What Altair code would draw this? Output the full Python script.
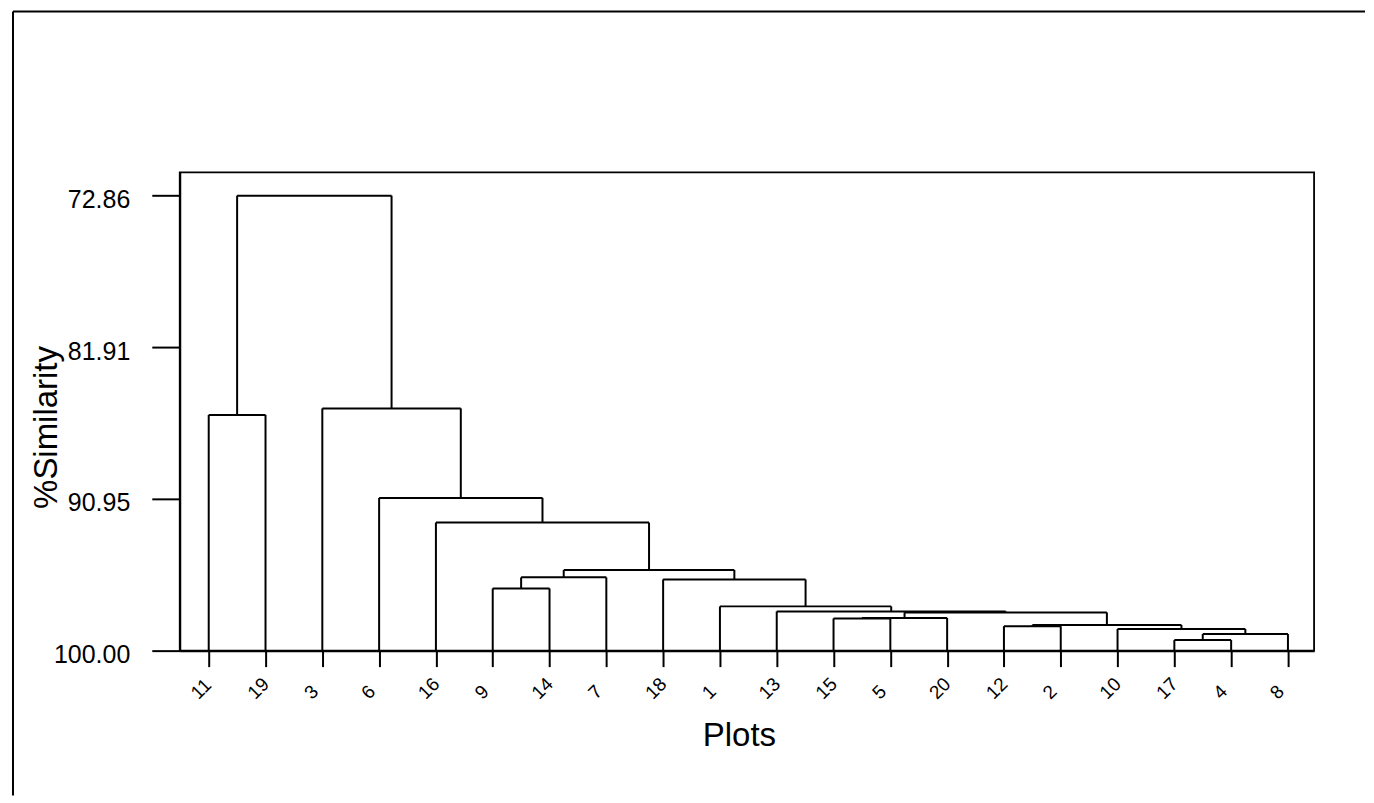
import altair as alt
import pandas as pd

# Leaf order along the x axis (plot numbers)
leaves = ["11", "19", "3", "6", "16", "9", "14", "7", "18", "1",
          "13", "15", "5", "20", "12", "2", "10", "17", "4", "8"]

# Merges: left member, right member, % similarity at which they join
merge_a = ["17", "m1", "10", "12", "m4", "15", "m6", "m7", "13", "1",
           "9", "18", "m11", "m13", "16", "6", "11", "3", "m17"]
merge_b = ["4", "8", "m2", "2", "m3", "5", "20", "m5", "m8", "m9",
           "14", "m10", "7", "m12", "m14", "m15", "19", "m16", "m18"]
merge_sim = [99.37, 99.01, 98.71, 98.54, 98.47, 98.08, 98.05, 97.72, 97.66, 97.36,
             96.29, 95.75, 95.63, 95.19, 92.36, 90.89, 85.94, 85.55, 72.86]

y_ticks = [72.86, 81.91, 90.95, 100.00]

# build the dendrogram segments (data space: leaf index, similarity)
pos = {name: (i, 100.0) for i, name in enumerate(leaves)}
rows = []
for k, (a, b, h) in enumerate(zip(merge_a, merge_b, merge_sim), start=1):
    xa, ya = pos[a]
    xb, yb = pos[b]
    rows.append({"x": xa, "x2": xa, "y": ya, "y2": h})
    rows.append({"x": xb, "x2": xb, "y": yb, "y2": h})
    rows.append({"x": xa, "x2": xb, "y": h, "y2": h})
    pos["m%d" % k] = ((xa + xb) / 2.0, h)
seg = pd.DataFrame(rows)

label_arr = "[" + ",".join("'%s'" % s for s in leaves) + "]"

W, H = 1136, 479

xscale = alt.Scale(domain=[-0.51, 19.46], nice=False, zero=False)
yscale = alt.Scale(domain=[71.47, 100.0], nice=False, zero=False, reverse=True)

dendro = alt.Chart(seg).mark_rule(color="black", strokeWidth=2).encode(
    x=alt.X("x:Q", scale=xscale, axis=alt.Axis(
        values=list(range(len(leaves))),
        labelExpr=label_arr + "[datum.value]",
        title="Plots", titleFontSize=33, titleFont="Liberation Sans",
        titleFontWeight="normal", titleX=560, titleY=95,
        titleBaseline="alphabetic", titleAlign="center",
        labelAngle=315, labelAlign="left", labelBaseline="middle",
        labelOffset=-15, labelPadding=29, labelFontSize=19,
        labelOverlap=False, labelFont="Liberation Sans",
        tickSize=16, tickWidth=2, tickColor="black",
        domainColor="black", domainWidth=2, labelColor="black", grid=False)),
    x2="x2:Q",
    y=alt.Y("y:Q", scale=yscale, axis=alt.Axis(
        values=y_ticks, format=".2f",
        title="%Similarity", titleFontSize=33, titleFont="Liberation Sans",
        titleFontWeight="normal", titleAngle=270, titleBaseline="bottom",
        titleAlign="center", titleX=-116, titleY=255,
        labelFontSize=25, labelFont="Liberation Sans", labelPadding=22,
        labelOffset=4, labelColor="black",
        tickSize=28, tickWidth=2, tickColor="black",
        domainColor="black", domainWidth=2, grid=False)),
    y2="y2:Q",
)

one = pd.DataFrame({"k": [0]})
frame_top = alt.Chart(one).mark_rule(color="black", strokeWidth=2).encode(
    x=alt.value(-167), x2=alt.value(1187), y=alt.value(-161))
frame_left = alt.Chart(one).mark_rule(color="black", strokeWidth=2).encode(
    x=alt.value(-167), y=alt.value(-161), y2=alt.value(624))

chart = alt.layer(dendro, frame_top, frame_left).properties(
    width=W, height=H,
    padding={"left": 4, "top": 2, "right": 0, "bottom": 0},
    background="white",
).configure_view(stroke="black", strokeWidth=1.8)

chart.save("out.html", embed_options={"renderer": "svg", "actions": False})
